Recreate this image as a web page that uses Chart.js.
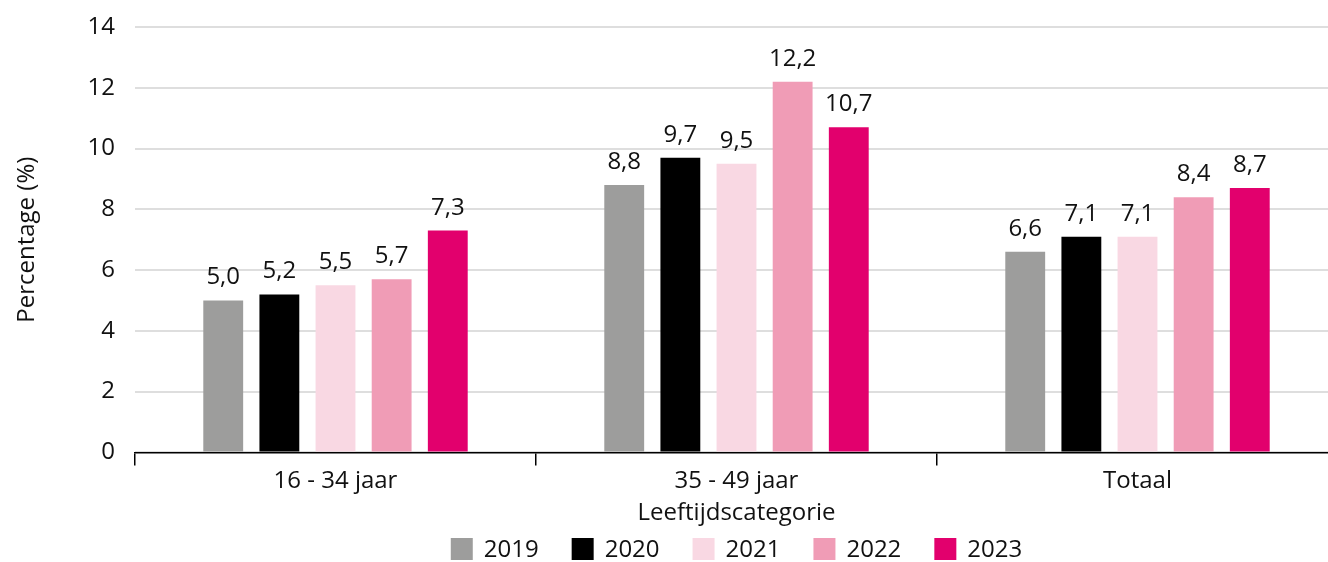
<!DOCTYPE html>
<html>
<head>
<meta charset="utf-8">
<script src="https://cdn.jsdelivr.net/npm/chart.js@4/dist/chart.umd.min.js"></script>
<style>
  html, body { margin: 0; padding: 0; background: #fff; overflow: hidden; }
  #wrap { width: 1340px; height: 562px; position: relative; }
</style>
</head>
<body>
<div id="wrap"><canvas id="chart"></canvas></div>
<script>
const categories = ['16 - 34 jaar', '35 - 49 jaar', 'Totaal'];
const years = ['2019', '2020', '2021', '2022', '2023'];
const values2019 = [5.0, 8.8, 6.6];
const values2020 = [5.2, 9.7, 7.1];
const values2021 = [5.5, 9.5, 7.1];
const values2022 = [5.7, 12.2, 8.4];
const values2023 = [7.3, 10.7, 8.7];
const yearColors = ['#9d9d9c', '#000000', '#f9d8e3', '#f09cb6', '#e2006d'];

const FONT_FAMILY = '"Open Sans", "Noto Sans", sans-serif';
const FONT_SIZE = 24;
const TEXT_COLOR = '#111';

const LEGEND = {
  boxSize: 22,
  textGap: 11,
  itemGap: 33,
  centerY: 549
};

const seriesValues = [values2019, values2020, values2021, values2022, values2023];

// value above each bar, dutch decimal comma
const valueLabels = {
  id: 'valueLabels',
  afterDatasetsDraw(chart) {
    const ctx = chart.ctx;
    ctx.save();
    ctx.font = `${FONT_SIZE}px ${FONT_FAMILY}`;
    ctx.fillStyle = TEXT_COLOR;
    ctx.textAlign = 'center';
    ctx.textBaseline = 'alphabetic';
    chart.data.datasets.forEach((dataset, i) => {
      chart.getDatasetMeta(i).data.forEach((bar, j) => {
        const text = dataset.data[j].toFixed(1).replace('.', ',');
        ctx.fillText(text, bar.x, bar.y - 16);
      });
    });
    ctx.restore();
  }
};

// legend centred under the plot area instead of the whole canvas
const bottomLegend = {
  id: 'bottomLegend',
  afterDraw(chart) {
    const ctx = chart.ctx;
    const area = chart.chartArea;
    ctx.save();
    ctx.font = `${FONT_SIZE}px ${FONT_FAMILY}`;
    ctx.textBaseline = 'middle';
    ctx.textAlign = 'left';

    const items = chart.data.datasets.map((dataset) => {
      const textWidth = ctx.measureText(dataset.label).width;
      return { dataset, textWidth, width: LEGEND.boxSize + LEGEND.textGap + textWidth };
    });
    const totalWidth = items.reduce((sum, item) => sum + item.width, 0) + LEGEND.itemGap * (items.length - 1);
    let x = (area.left + area.right) / 2 - totalWidth / 2;

    items.forEach((item) => {
      ctx.fillStyle = item.dataset.backgroundColor;
      ctx.fillRect(x, LEGEND.centerY - LEGEND.boxSize / 2, LEGEND.boxSize, LEGEND.boxSize);
      ctx.fillStyle = TEXT_COLOR;
      ctx.fillText(item.dataset.label, x + LEGEND.boxSize + LEGEND.textGap, LEGEND.centerY + 1);
      x += item.width + LEGEND.itemGap;
    });
    ctx.restore();
  }
};

new Chart(document.getElementById('chart'), {
  type: 'bar',
  data: {
    labels: categories,
    datasets: years.map((year, i) => ({
      label: year,
      data: seriesValues[i],
      backgroundColor: yearColors[i],
      borderWidth: 0,
      categoryPercentage: 0.70,
      barPercentage: 0.71
    }))
  },
  options: {
    responsive: true,
    maintainAspectRatio: false,
    animation: false,
    layout: { padding: { top: 27, right: 2, left: 0, bottom: 34 } },
    scales: {
      x: {
        border: { display: true, color: '#000', width: 1.5 },
        grid: {
          offset: true,
          drawOnChartArea: false,
          drawTicks: true,
          tickLength: 13,
          color: '#000',
          lineWidth: 1.5
        },
        ticks: { color: TEXT_COLOR, font: { family: FONT_FAMILY, size: FONT_SIZE }, padding: 1 },
        title: {
          display: true,
          text: 'Leeftijdscategorie',
          color: TEXT_COLOR,
          font: { family: FONT_FAMILY, size: FONT_SIZE },
          padding: { top: 3, bottom: 0 }
        }
      },
      y: {
        min: 0,
        max: 14,
        border: { display: false },
        grid: { color: '#dedede', lineWidth: 2, drawTicks: false },
        ticks: {
          stepSize: 2,
          color: TEXT_COLOR,
          padding: 20,
          font: { family: FONT_FAMILY, size: FONT_SIZE }
        },
        title: {
          display: true,
          text: 'Percentage (%)',
          color: TEXT_COLOR,
          font: { family: FONT_FAMILY, size: FONT_SIZE },
          padding: { top: 13, bottom: 0 }
        },
        afterFit(scale) {
          scale.width = 135;
          scale.paddingTop = 0;
          scale.paddingBottom = 0;
        }
      }
    },
    plugins: {
      legend: { display: false },
      tooltip: { enabled: false }
    }
  },
  plugins: [valueLabels, bottomLegend]
});
</script>
</body>
</html>
